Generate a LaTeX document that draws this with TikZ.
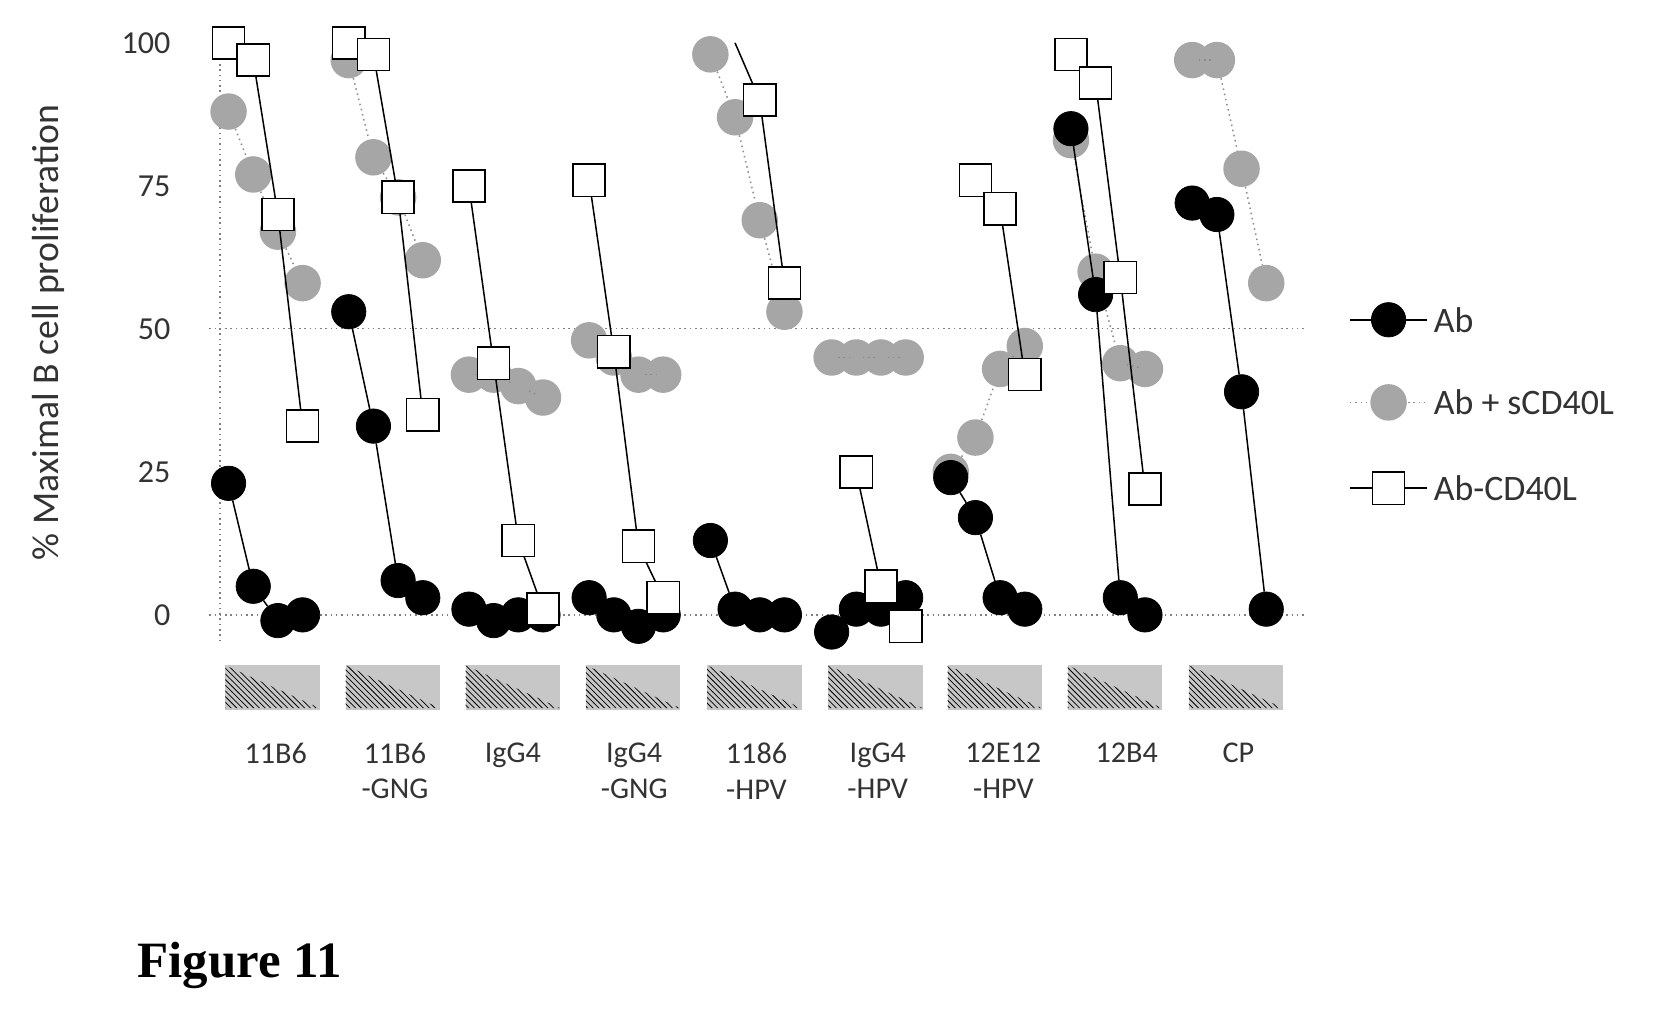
\documentclass[tikz,border=0pt]{standalone}
\usepackage{fontspec}
\setmainfont{Carlito}
\usetikzlibrary{patterns}
\tikzset{%
    abdot/.style={circle, draw=black, fill=black, minimum size=32*0.2mm, inner sep=0pt},%
    scdot/.style={circle, fill=black!35, minimum size=34*0.2mm, inner sep=0pt},%
    sqbox/.style={rectangle, draw=black, thick, fill=white, minimum size=30*0.2mm, inner sep=0pt},%
    abline/.style={black, thick},%
    scline/.style={black!45, dotted, thick},%
    gridline/.style={black!50, dotted, thick},%
    ticklabel/.style={font=\fontsize{17}{19}\selectfont, text=black!80},%
    grouplabel/.style={font=\fontsize{16}{19}\selectfont, align=center, text=black!80},%
}
\begin{document}
\begin{tikzpicture}[x=0.2mm, y=-0.2mm]
    \useasboundingbox[fill=white] (0,0) rectangle (1560,940);%

    %
    % Axes
    %
    \draw[gridline] (205,40) -- (205,600);%
    \draw[gridline] (195,573) -- (1215,573);%
    \draw[gridline] (195,306) -- (1215,306);%
    \foreach \v in {0,25,50,75,100} {%
        \node[ticklabel, anchor=east] (tick\v) at (165,{573-5.33*\v}) {\v};%
    }%
    \node[rotate=90, font=\fontsize{20}{22}\selectfont, text=black!80] (ylabel) at (45,310) {\% Maximal B cell proliferation};%

    %
    % Data: group/x/Ab/sCD40L
    %
    \foreach \g/\x/\ab/\sc in {%
        1/213/{23,5,-1,0}/{88,77,67,58},%
        2/325/{53,33,6,3}/{97,80,73,62},%
        3/437/{1,-1,0,0}/{42,42,40,38},%
        4/549/{3,0,-2,0}/{48,45,42,42},%
        5/662/{13,1,0,0}/{98,87,69,53},%
        6/775/{-3,1,1,3}/{45,45,45,45},%
        7/886/{24,17,3,1}/{25,31,43,47},%
        8/998/{85,56,3,0}/{83,60,44,43},%
        9/1111/{72,70,39,1}/{97,97,78,58}%
    } {%
        % Ab + sCD40L
        \foreach \v [count=\i] in \sc {%
            \node[scdot] (sc\g-\i) at ({\x+23*(\i-1)},{573-5.33*\v}) {};%
        }%
        \foreach \i in {2,3,4} {%
            \pgfmathtruncatemacro\j{\i-1}%
            \draw[scline] (sc\g-\j) -- (sc\g-\i);%
        }%
        % Ab
        \foreach \v [count=\i] in \ab {%
            \node[abdot] (ab\g-\i) at ({\x+23*(\i-1)},{573-5.33*\v}) {};%
        }%
        \foreach \i in {2,3,4} {%
            \pgfmathtruncatemacro\j{\i-1}%
            \draw[abline] (ab\g-\j) -- (ab\g-\i);%
        }%
        % dose triangle
        \fill[black!22] ({\x-3},620) rectangle ({\x+85},662);%
        \fill[pattern=north west lines] ({\x-3},620) -- ({\x+85},660) -- ({\x-3},660) -- cycle;%
    }%

    % Ab-CD40L: group/x/start/values
    \coordinate (cq5-2) at (685,40);%
    \foreach \g/\x/\s/\sq in {%
        1/213/1/{100,97,70,33}, 2/325/1/{100,98,73,35}, 3/437/1/{75,44,13,1},%
        4/549/1/{76,46,12,3}, 5/662/3/{90,58}, 6/775/2/{25,5,-2},%
        7/886/2/{76,71,42}, 8/998/1/{98,93,59,22}%
    } {%
        \foreach \v [count=\k] in \sq {%
            \pgfmathtruncatemacro\i{\k+\s-1}%
            \coordinate (cq\g-\i) at ({\x+23*(\i-1)},{573-5.33*\v});%
        }%
        \pgfmathtruncatemacro\t{\s+1}%
        \foreach \i in {\t,...,4} {%
            \pgfmathtruncatemacro\j{\i-1}%
            \draw[abline] (cq\g-\j) -- (cq\g-\i);%
        }%
        \foreach \i in {\s,...,4} {%
            \node[sqbox] (sq\g-\i) at (cq\g-\i) {};%
        }%
    }%
    \draw[abline] (cq5-2) -- (sq5-3);%

    %
    % Group labels
    %
    \foreach \x/\l in {257/11B6, 368/11B6\\-GNG, 478/IgG4, 591/IgG4\\-GNG, 705/1186\\-HPV,%
        818/IgG4\\-HPV, 935/12E12\\-HPV, 1050/12B4, 1154/CP} {%
        \node[grouplabel, anchor=north] (lab\x) at (\x,686) {\l};%
    }%

    %
    % Legend
    %
    \coordinate (leg1a) at (1258,298); \coordinate (leg1b) at (1330,298);%
    \coordinate (leg2a) at (1258,375); \coordinate (leg2b) at (1330,375);%
    \coordinate (leg3a) at (1258,455); \coordinate (leg3b) at (1330,455);%
    \draw[abline] (leg1a) -- (leg1b);%
    \draw[scline] (leg2a) -- (leg2b);%
    \draw[abline] (leg3a) -- (leg3b);%
    \node[abdot] (legab) at (1294,298) {};%
    \node[scdot] (legsc) at (1294,375) {};%
    \node[sqbox] (legsq) at (1294,455) {};%
    \node[ticklabel, anchor=west, font=\fontsize{19}{21}\selectfont] (legt1) at (leg1b) {Ab};%
    \node[ticklabel, anchor=west, font=\fontsize{19}{21}\selectfont] (legt2) at (leg2b) {Ab + sCD40L};%
    \node[ticklabel, anchor=west, font=\fontsize{19}{21}\selectfont] (legt3) at (leg3b) {Ab-CD40L};%

    \node[anchor=west, font=\fontspec{Liberation Serif}\bfseries\fontsize{27}{29}\selectfont] (fig) at (122,900) {Figure 11};%
\end{tikzpicture}
\end{document}
